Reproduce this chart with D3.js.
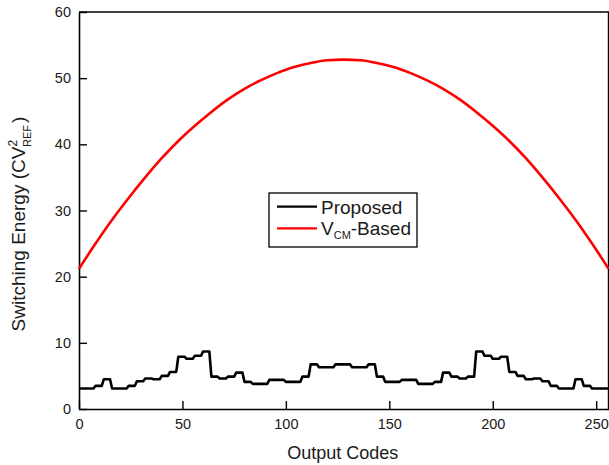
<!DOCTYPE html>
<html>
<head>
<meta charset="utf-8">
<script src="https://cdn.jsdelivr.net/npm/d3@7"></script>
<style>
  html, body { margin: 0; padding: 0; background: #fff; }
  svg { display: block; font-family: "Liberation Sans", Arial, Helvetica, sans-serif; }
</style>
</head>
<body>
<svg id="chart" width="609" height="465"></svg>
<script>
// ---- data ----
const xTicks = [0, 50, 100, 150, 200, 250];
const yTicks = [0, 10, 20, 30, 40, 50, 60];
// Proposed: value per block of 4 output codes (64 blocks, codes 0..255)
const proposedBlockSize = 4;
const proposedValues = [
  3.1, 3.1, 3.5, 4.5, 3.1, 3.1, 3.5, 4.2, 4.6, 4.5, 5.0, 5.6, 7.9, 7.6, 8.05, 8.7,
  4.9, 4.6, 4.9, 5.5, 4.1, 3.8, 3.8, 4.4, 4.4, 4.1, 4.1, 4.9, 6.75, 6.3, 6.3, 6.75,
  6.75, 6.3, 6.3, 6.75, 4.9, 4.1, 4.1, 4.4, 4.4, 3.8, 3.8, 4.1, 5.5, 4.9, 4.6, 4.9,
  8.7, 8.05, 7.6, 7.9, 5.6, 5.0, 4.5, 4.6, 4.2, 3.5, 3.1, 3.1, 4.5, 3.5, 3.1, 3.1
];
// VCM-based: sampled every 8 codes
const vcmCodes = [0, 8, 16, 24, 32, 40, 48, 56, 64, 72, 80, 88, 96, 104, 112, 120, 128,
  136, 144, 152, 160, 168, 176, 184, 192, 200, 208, 216, 224, 232, 240, 248, 256];
const vcmValues = [21.2, 25.0, 28.6, 31.9, 35.0, 37.9, 40.5, 42.8, 44.9, 46.8, 48.4, 49.7, 50.8, 51.7, 52.3, 52.7, 52.8,
  52.7, 52.3, 51.7, 50.8, 49.7, 48.4, 46.8, 44.9, 42.8, 40.5, 37.9, 35.0, 31.9, 28.6, 25.0, 21.2];

// ---- layout ----
const svg = d3.select("#chart");
const mLeft = 79, mRight = 608.6, mTop = 12, mBottom = 409;
const x = d3.scaleLinear().domain([0, 256]).range([mLeft, mRight]);
const y = d3.scaleLinear().domain([0, 60]).range([mBottom, mTop]);

// frame (top + right)
svg.append("path")
  .attr("d", `M${mLeft},${mTop}H${mRight}V${mBottom}`)
  .attr("fill", "none").attr("stroke", "#000").attr("stroke-width", 1.6);

// axes
const xAxis = d3.axisBottom(x).tickValues(xTicks).tickSizeInner(-8).tickSizeOuter(0).tickPadding(10);
const yAxis = d3.axisLeft(y).tickValues(yTicks).tickSizeInner(-8).tickSizeOuter(0).tickPadding(8);

const gx = svg.append("g").attr("transform", `translate(0,${mBottom})`).call(xAxis);
const gy = svg.append("g").attr("transform", `translate(${mLeft},0)`).call(yAxis);
[gx, gy].forEach(g => {
  g.select(".domain").attr("stroke", "#000").attr("stroke-width", 1.6);
  g.selectAll(".tick line").attr("stroke", "#000").attr("stroke-width", 1.4);
  g.selectAll(".tick text").attr("fill", "#1a1a1a").style("font-size", "14.5px")
    .style("font-family", '"Liberation Sans", Arial, sans-serif');
});

// lines
const proposedPts = [];
proposedValues.forEach((v, i) => {
  const c0 = i * proposedBlockSize;
  proposedPts.push([c0, v]);
  proposedPts.push([c0 + proposedBlockSize - 1, v]);
});
proposedPts.push([256, proposedValues[proposedValues.length - 1]]);

svg.append("path")
  .attr("d", d3.line().x(d => x(d[0])).y(d => y(d[1])).curve(d3.curveMonotoneX)(vcmCodes.map((c, i) => [c, vcmValues[i]])))
  .attr("fill", "none").attr("stroke", "#ff0000").attr("stroke-width", 2.6);

svg.append("path")
  .attr("d", d3.line().x(d => x(d[0])).y(d => y(d[1]))(proposedPts))
  .attr("fill", "none").attr("stroke", "#000").attr("stroke-width", 2.6)
  .attr("stroke-linejoin", "round");

// axis titles
svg.append("text").attr("x", (mLeft + mRight) / 2 - 1).attr("y", 459)
  .attr("text-anchor", "middle").style("font-size", "18px").attr("fill", "#1a1a1a")
  .text("Output Codes");

const yt = svg.append("text")
  .attr("transform", `translate(25,224) rotate(-90)`)
  .attr("text-anchor", "middle").style("font-size", "19px").attr("fill", "#1a1a1a");
yt.append("tspan").text("Switching Energy (CV");
yt.append("tspan").text("2").style("font-size", "12px").attr("dy", -8);
yt.append("tspan").text("REF").style("font-size", "11px").attr("dx", -7).attr("dy", 14);
yt.append("tspan").text(")").attr("dy", -6).attr("dx", 2);

// legend
const lg = svg.append("g");
lg.append("rect").attr("x", 269).attr("y", 193).attr("width", 148).attr("height", 54)
  .attr("fill", "#fff").attr("stroke", "#000").attr("stroke-width", 1.3);
const legendItems = [
  { label: "Proposed", color: "#000", yy: 206.7 },
  { label: "V", sub: "CM", rest: "-Based", color: "#ff0000", yy: 228.3 }
];
legendItems.forEach(d => {
  lg.append("line").attr("x1", 277).attr("x2", 317).attr("y1", d.yy).attr("y2", d.yy)
    .attr("stroke", d.color).attr("stroke-width", 2.2);
  const t = lg.append("text").attr("x", 321).attr("y", d.yy + 6.8)
    .style("font-size", "19px").attr("fill", "#1a1a1a");
  t.append("tspan").text(d.label);
  if (d.sub) {
    t.append("tspan").text(d.sub).style("font-size", "11px").attr("dy", 4);
    t.append("tspan").text(d.rest).attr("dy", -4);
  }
});
</script>
</body>
</html>
